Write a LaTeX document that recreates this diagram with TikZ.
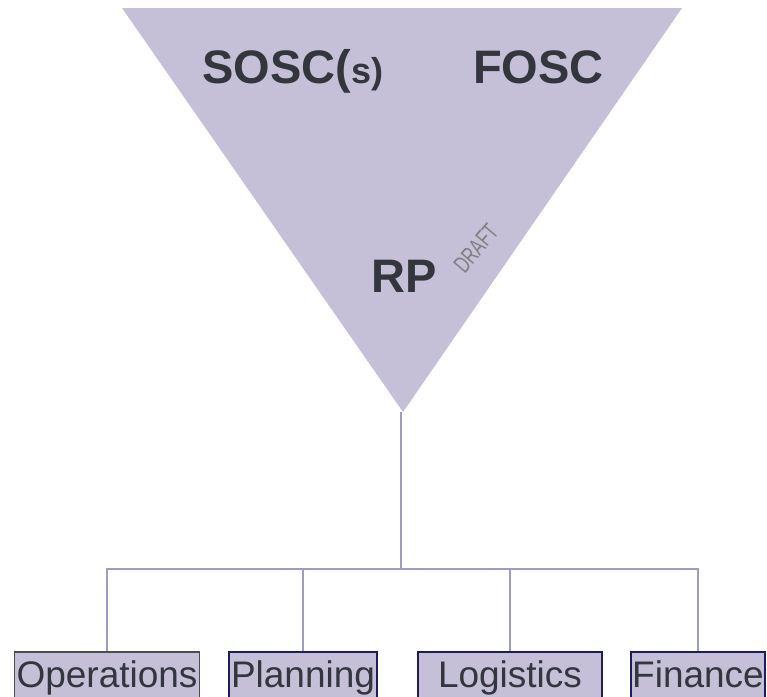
\documentclass[tikz,border=0pt]{standalone}
\usepackage{fontspec}
\setmainfont{Liberation Sans}
\definecolor{lav}{HTML}{C5C0D8}
\definecolor{linkc}{HTML}{A09BC2}
\definecolor{txt}{HTML}{33363D}
\definecolor{navy}{HTML}{1C1C5E}
\tikzset{
  unit/.style={draw=navy,line width=1.5pt,fill=lav,text=txt,inner sep=0pt,
    anchor=north,text height=36pt,text depth=19pt,
    font=\fontsize{37}{40}\selectfont},
  link/.style={draw=linkc,line width=2.5pt},
  head/.style={text=txt,font=\fontsize{47}{50}\bfseries\selectfont,inner sep=0pt,anchor=base west}
}
\begin{document}
\begin{tikzpicture}[x=1pt,y=-1pt]
            \useasboundingbox (0,0) rectangle (767,696);
            \clip (0,0) rectangle (767,696);
            % command triangle
            \coordinate (tl) at (122,8);
            \coordinate (tr) at (682,8);
            \coordinate (apex) at (403,412);
            \fill[lav] (tl) -- (tr) -- (apex) -- cycle;

            \node[head] (sosc) at (202,83) {SOSC(\fontsize{36}{40}\selectfont s)};
            \node[head] (fosc) at (473,83) {FOSC};
            \node[head] (rp) at (371,292) {RP};
            \node[text=gray,rotate=50,inner sep=0pt,font=\fontsize{24}{26}\selectfont] (draft) at (476,248)
                {\scalebox{0.68}[1]{DRAFT}};

            % sections
            \node[unit,draw=black!70,minimum width=185pt] (ops) at (107,651) {Operations};
            \node[unit,minimum width=148pt] (plan) at (303,651) {Planning};
            \node[unit,minimum width=184pt] (log) at (510,651) {Logistics};
            \node[unit,minimum width=134pt] (fin) at (698,651) {Finance};

            \coordinate (bus) at (401,569);
            \draw[link] (apex -| bus) -- (bus);
            \draw[link] (ops.north) |- (bus) -| (fin.north);
            \foreach \s in {plan,log}
            {
                \draw[link] (\s.north) -- (\s.north |- bus);
            }
\end{tikzpicture}
\end{document}
